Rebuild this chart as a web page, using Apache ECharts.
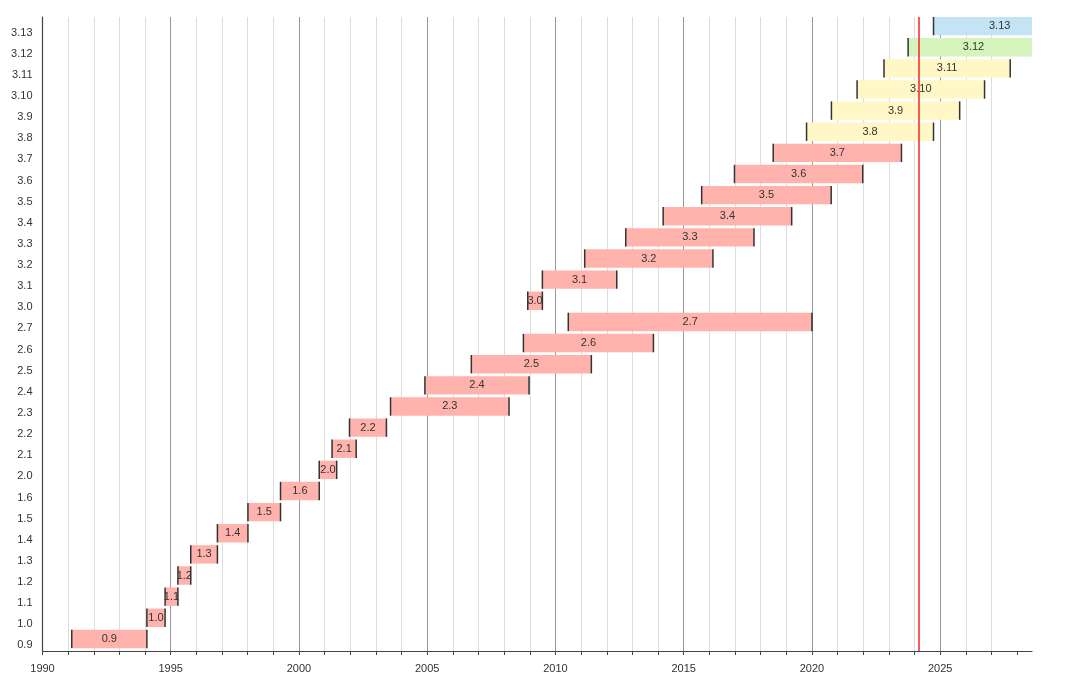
<!DOCTYPE html>
<html>
<head>
<meta charset="utf-8">
<script src="https://cdn.jsdelivr.net/npm/echarts@6/dist/echarts.min.js"></script>
<style>
html,body{margin:0;padding:0;background:#fff;}
#chart{width:1080px;height:686px;}
</style>
</head>
<body>
<div id="chart"></div>
<script>
// Python versions (bottom to top)
const versions = ['0.9','1.0','1.1','1.2','1.3','1.4','1.5','1.6','2.0','2.1','2.2','2.3','2.4','2.5','2.6','2.7','3.0','3.1','3.2','3.3','3.4','3.5','3.6','3.7','3.8','3.9','3.10','3.11','3.12','3.13'];
const starts = [1991.14,1994.07,1994.78,1995.28,1995.78,1996.82,1998.01,1999.28,2000.79,2001.29,2001.97,2003.57,2004.91,2006.72,2008.75,2010.50,2008.92,2009.49,2011.14,2012.74,2014.20,2015.70,2016.98,2018.49,2019.79,2020.76,2021.76,2022.81,2023.75,2024.74];
const ends   = [1994.07,1994.78,1995.28,1995.78,1996.82,1998.01,1999.28,2000.79,2001.47,2002.23,2003.41,2008.19,2008.97,2011.40,2013.82,2020.00,2009.49,2012.39,2016.14,2017.74,2019.21,2020.75,2021.98,2023.49,2024.74,2025.76,2026.73,2027.73,2028.85,2029.9];
const statuses = ['eol','eol','eol','eol','eol','eol','eol','eol','eol','eol','eol','eol','eol','eol','eol','eol','eol','eol','eol','eol','eol','eol','eol','eol','security','security','security','security','bugfix','prerelease'];
const today = 2024.15;
const yearTicks = [];
for (let y = 1990; y <= 2028; y++) yearTicks.push(y);
const labelYears = [1990,1995,2000,2005,2010,2015,2020,2025];

const statusColors = {eol:'#ffb3ac', security:'#fff7c6', bugfix:'#d5f4bb', prerelease:'#c4e4f5'};
const xMin = 1990, xMax = 2028.58;

const data = versions.map((v,i)=>[starts[i], ends[i], i, statuses[i]]);

const chart = echarts.init(document.getElementById('chart'));
chart.setOption({
  animation:false,
  textStyle:{fontFamily:'Liberation Sans, Arial, sans-serif'},
  grid:{left:42.5, right:48, top:17, bottom:35},
  xAxis:{
    type:'value', min:xMin, max:xMax, interval:1,
    axisLine:{show:true, lineStyle:{color:'#444', width:1.2}},
    axisTick:{show:true, length:4, customValues:yearTicks, lineStyle:{color:'#444'}},
    axisLabel:{customValues:labelYears, color:'#333', fontSize:11, margin:12, formatter:v=>String(v)},
    splitLine:{show:true, showMaxLine:false, lineStyle:{color:['#999','#ddd','#ddd','#ddd','#ddd'], width:1}}
  },
  yAxis:{
    type:'category', data:versions,
    axisLine:{show:true, lineStyle:{color:'#444', width:1.2}},
    axisTick:{show:false},
    axisLabel:{color:'#333', fontSize:11, margin:10, verticalAlign:'top', lineHeight:10},
    splitLine:{show:false}
  },
  series:[{
    type:'custom',
    clip:true,
    encode:{x:[0,1], y:2},
    data:data,
    renderItem:function(params, api){
      const s = api.value(0), e = api.value(1), idx = api.value(2);
      const st = statuses[idx];
      const band = api.size([0,1])[1];
      const h = band*0.87;
      const p0 = api.coord([s, idx]);
      const p1 = api.coord([e, idx]);
      const cy = p0[1] - 1.5;
      const cs = params.coordSys;
      const rect = echarts.graphic.clipRectByRect({x:p0[0], y:cy-h/2, width:p1[0]-p0[0], height:h},
        {x:cs.x, y:cs.y, width:cs.width, height:cs.height});
      const children = [];
      if (rect) {
        children.push({type:'rect', shape:rect, style:{fill:statusColors[st]}});
      }
      children.push({type:'line', shape:{x1:p0[0], y1:cy-h/2, x2:p0[0], y2:cy+h/2}, style:{stroke:'#333', lineWidth:1.5}});
      if (e <= xMax) {
        children.push({type:'line', shape:{x1:p1[0], y1:cy-h/2, x2:p1[0], y2:cy+h/2}, style:{stroke:'#333', lineWidth:1.5}});
      }
      children.push({type:'text', x:(p0[0]+p1[0])/2, y:cy, style:{text:versions[idx], fill:'#333', fontSize:11, fontFamily:'Liberation Sans, Arial, sans-serif', align:'center', verticalAlign:'middle'}});
      return {type:'group', children:children};
    }
  },{
    type:'line', data:[], z:10,
    markLine:{
      silent:true, symbol:'none', animation:false,
      label:{show:false},
      lineStyle:{color:'#ff2020', width:1.5, type:'solid'},
      data:[{xAxis:today}]
    }
  }]
});
</script>
</body>
</html>
